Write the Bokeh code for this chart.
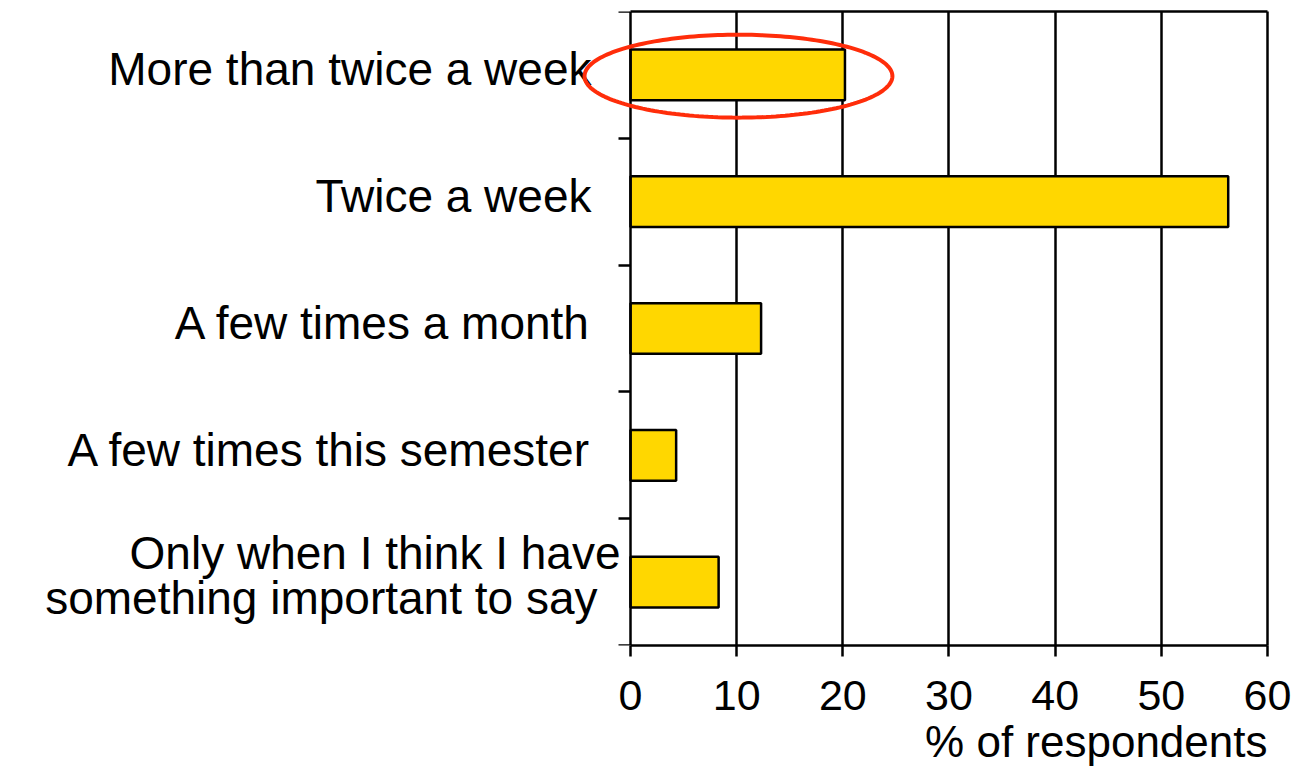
import numpy as np
from bokeh.plotting import figure
from bokeh.models import (Range1d, FixedTicker, LabelSet, ColumnDataSource,
                          PolyAnnotation, LinearAxis, Title)
from bokeh.core.properties import value
from bokeh.embed import file_html
from bokeh.resources import INLINE

# ---- data ----
categories = ["More than twice a week", "Twice a week", "A few times a month",
              "A few times this semester",
              "Only when I think I have\nsomething important to say"]
values = [20.2, 56.3, 12.3, 4.3, 8.3]
x_ticks = [0, 10, 20, 30, 40, 50, 60]
x_title = "% of respondents"
highlight_index = 0

FONT = "Liberation Sans"
n = len(categories)
ypos = [n - 1 - i for i in range(n)]
XMIN = -59.34   # room on the left of the value axis for the category labels

p = figure(width=1300, height=770, output_backend="svg", toolbar_location=None,
           x_range=Range1d(XMIN, x_ticks[-1]), y_range=Range1d(-0.5, n - 0.5),
           min_border_left=0, min_border_right=33, min_border_top=11,
           min_border_bottom=125)
p.background_fill_color = "white"
p.border_fill_color = "white"
p.outline_line_color = None

src = ColumnDataSource(dict(y=ypos, v=values))
p.hbar(y="y", right="v", left=0, height=0.4, source=src,
       fill_color="#FFD700", line_color="black", line_width=2.5)

# grid
p.xgrid.ticker = FixedTicker(ticks=x_ticks[1:])
p.xgrid.grid_line_color = "black"
p.xgrid.grid_line_width = 2.5
p.xgrid.grid_line_alpha = 1.0
p.ygrid.grid_line_color = None

# x axis
xa = p.xaxis[0]
xa.ticker = FixedTicker(ticks=x_ticks)
xa.bounds = (x_ticks[0], x_ticks[-1])
xa.axis_line_color = "black"
xa.axis_line_width = 2.5
xa.major_tick_line_color = "black"
xa.major_tick_line_width = 2.5
xa.major_tick_out = 11
xa.major_tick_in = 0
xa.minor_tick_line_color = None
xa.major_label_text_font = FONT
xa.major_label_text_font_size = "43px"
xa.major_label_text_color = "black"
xa.major_label_standoff = 24

# x title, right-aligned under the value axis
p.add_layout(Title(text=x_title, align="right", standoff=4,
                   text_font=FONT, text_font_size="44px",
                   text_font_style="normal", text_color="black"), "below")

# y axis at x = 0 (ticks between categories, no labels)
ya = p.yaxis[0]
ya.fixed_location = 0
ya.ticker = FixedTicker(ticks=[i - 0.5 for i in range(n + 1)])
ya.axis_line_color = "black"
ya.axis_line_width = 2.5
ya.major_tick_line_color = "black"
ya.major_tick_line_width = 2.5
ya.major_tick_out = 12
ya.major_tick_in = 0
ya.minor_tick_line_color = None
ya.major_label_text_font_size = "1px"
ya.major_label_text_color = None

# top and right frame lines
top = LinearAxis(ticker=FixedTicker(ticks=[]), bounds=(x_ticks[0], x_ticks[-1]),
                 axis_line_color="black", axis_line_width=2.5,
                 major_tick_line_color=None, minor_tick_line_color=None,
                 major_label_text_color=None, major_label_text_font_size="1px")
p.add_layout(top, "above")
right = LinearAxis(ticker=FixedTicker(ticks=[]),
                   axis_line_color="black", axis_line_width=2.5,
                   major_tick_line_color=None, minor_tick_line_color=None,
                   major_label_text_color=None, major_label_text_font_size="1px")
p.add_layout(right, "right")

# category labels (one row per text line)
ly, lt, lxo, lyo = [], [], [], []
for y, c in zip(ypos, categories):
    lines = c.split("\n")
    if len(lines) == 1:
        ly.append(y); lt.append(c); lxo.append(-39); lyo.append(-10.5)
    else:
        ly += [y, y]
        lt += lines
        lxo += [-10, -33]
        lyo += [13.5, -31.5]
lsrc = ColumnDataSource(dict(x=[0] * len(ly), y=ly, t=lt, xo=lxo, yo=lyo))
p.add_layout(LabelSet(x="x", y="y", text="t", source=lsrc, x_offset="xo", y_offset="yo",
                      text_align="right", text_baseline="alphabetic",
                      text_font=value(FONT), text_font_size="46px", text_color="black"))

# highlight ellipse around the first bar
cx = values[highlight_index] / 2 + 0.07
cy = ypos[highlight_index] - 0.01
rx, ry = 14.5, 0.327
t = np.linspace(0, 2 * np.pi, 200)
p.add_layout(PolyAnnotation(xs=list(cx + rx * np.cos(t)), ys=list(cy + ry * np.sin(t)),
                            fill_alpha=0, line_color="#ff2d0a", line_alpha=1.0,
                            line_width=4))

open("out.html", "w").write(file_html(p, INLINE))
